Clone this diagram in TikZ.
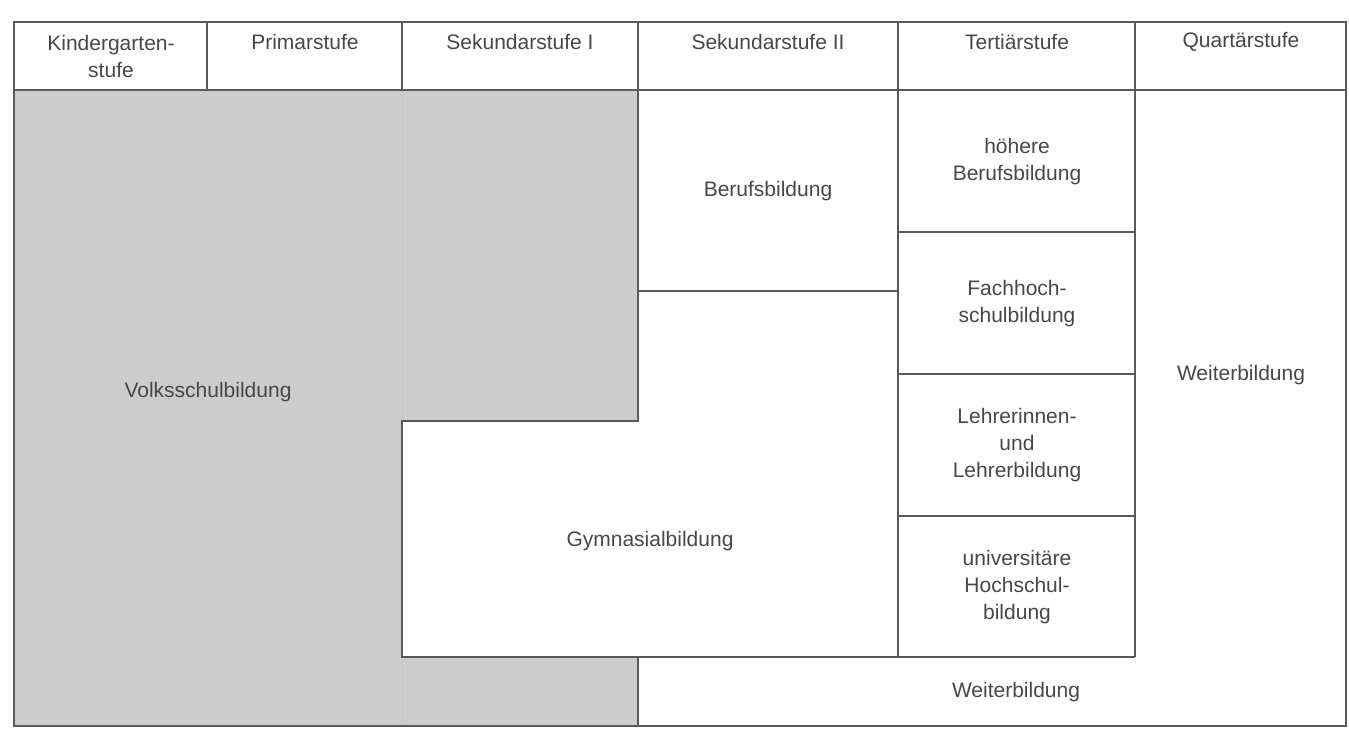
\documentclass[tikz,border=0pt]{standalone}
\usepackage{fontspec}
\setmainfont{Liberation Sans}
\begin{document}
\begin{tikzpicture}[x=1pt,y=-1pt,
  ln/.style={draw=black!65,line width=1.8pt},
  lb/.style={text=black!72,font=\fontsize{21}{27}\selectfont,align=center,inner sep=0pt}]
\useasboundingbox (0,0) rectangle (1349,743);
\fill[black!20] (14,90)--(638,90)--(638,421)--(402,421)--(402,657)--(638,657)--(638,726)--(14,726)--cycle;
\draw[black!22,line width=1pt] (402,90)--(402,421) (402,657)--(402,726);
\draw[ln] (14,22) rectangle (1346,726);
\draw[ln] (14,90)--(1346,90);
\foreach \x in {207,402,638,898,1135} \draw[ln] (\x,22)--(\x,90);
\draw[ln] (638,90)--(638,421)--(402,421)--(402,657)--(1135,657);
\draw[ln] (638,291)--(898,291);
\draw[ln] (898,90)--(898,657);
\draw[ln] (1135,90)--(1135,657);
\foreach \y in {232,374,516} \draw[ln] (898,\y)--(1135,\y);
\draw[ln] (638,657)--(638,726);
\node[lb] (h1) at (111,56) {Kindergarten-\\stufe};
\node[lb] (h2) at (305,42) {Primarstufe};
\node[lb] (h3) at (520,42) {Sekundarstufe I};
\node[lb] (h4) at (768,42) {Sekundarstufe II};
\node[lb] (h5) at (1017,42) {Tertiärstufe};
\node[lb] (h6) at (1241,42) {Quartärstufe};
\node[lb] (vs) at (208,392) {Volksschulbildung};
\node[lb] (bb) at (768,191) {Berufsbildung};
\node[lb] (gy) at (650,541) {Gymnasialbildung};
\node[lb] (t1) at (1017,162) {höhere\\Berufsbildung};
\node[lb] (t2) at (1017,304) {Fachhoch-\\schulbildung};
\node[lb] (t3) at (1017,445) {Lehrerinnen-\\und\\Lehrerbildung};
\node[lb] (t4) at (1017,587) {universitäre\\Hochschul-\\bildung};
\node[lb] (w1) at (1241,375) {Weiterbildung};
\node[lb] (w2) at (1016,692) {Weiterbildung};
\end{tikzpicture}
\end{document}
